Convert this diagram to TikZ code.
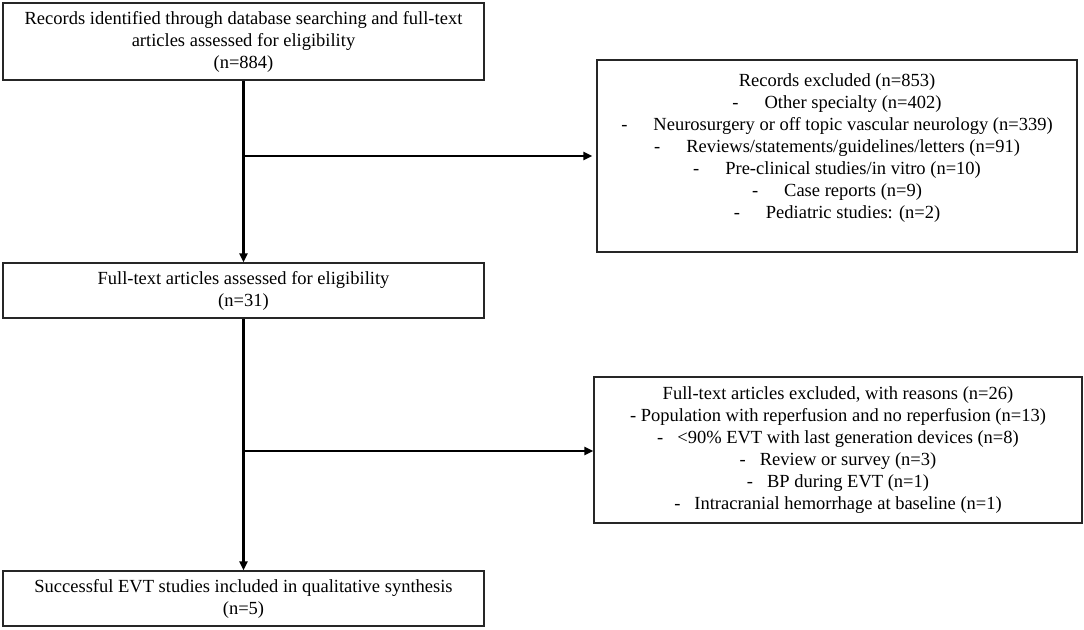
\documentclass[tikz,border=0pt]{standalone}
\usepackage{fontspec}
\setmainfont{Liberation Serif}
\usetikzlibrary{arrows.meta}

\tikzset{
    box/.style={draw=black!85, line width=1.2pt, inner sep=0pt, align=center,
        font=\fontsize{18.5}{22}\selectfont},
    flow/.style={line width=2.6pt, -{Triangle[length=9pt,width=8pt]}}
}
\newcommand{\dsh}{-\hspace{26pt}}

\begin{document}
\begin{tikzpicture}[x=1pt,y=-1pt]
    \useasboundingbox (0,0) rectangle (1084,629);
    \node[box, minimum width=481, minimum height=77] (0) at (243.5,41.5)
            {Records identified through database searching and full-text\\
             articles assessed for eligibility\\
             (n=884)};
    \node[box, minimum width=481, minimum height=55] (1) at (243.5,290.5)
            {Full-text articles assessed for eligibility\\
             (n=31)};
    \node[box, minimum width=481, minimum height=55] (2) at (243.5,598.5)
            {Successful EVT studies included in qualitative synthesis\\
             (n=5)};
    \node[box, minimum width=480, minimum height=192] (e0) at (837,156)
            {Records excluded (n=853)\\
             \dsh Other specialty (n=402)\\
             \dsh Neurosurgery or off topic vascular neurology (n=339)\\
             \dsh Reviews/statements/guidelines/letters (n=91)\\
             \dsh Pre-clinical studies/in vitro (n=10)\\
             \dsh Case reports (n=9)\\
             \dsh Pediatric studies: (n=2)\\[-2pt]
             \mbox{}};
    \node[box, minimum width=488, minimum height=146] (e1) at (838,450)
            {Full-text articles excluded, with reasons (n=26)\\
             - Population with reperfusion and no reperfusion (n=13)\\
             -\hspace{14pt}{<}90\% EVT with last generation devices (n=8)\\
             -\hspace{14pt}Review or survey (n=3)\\
             -\hspace{14pt}BP during EVT (n=1)\\
             -\hspace{14pt}Intracranial hemorrhage at baseline (n=1)};
    \coordinate (j0) at (0.south |- e0.west);
    \coordinate (j1) at (1.south |- 0,451);
    \draw[flow] (0.south) -- (1.north);
    \draw[flow] (j0) -- ([xshift=-4pt]e0.west);
    \draw[flow] (1.south) -- (2.north);
    \draw[flow] (j1) -- (j1 -| e1.west);
\end{tikzpicture}
\end{document}
